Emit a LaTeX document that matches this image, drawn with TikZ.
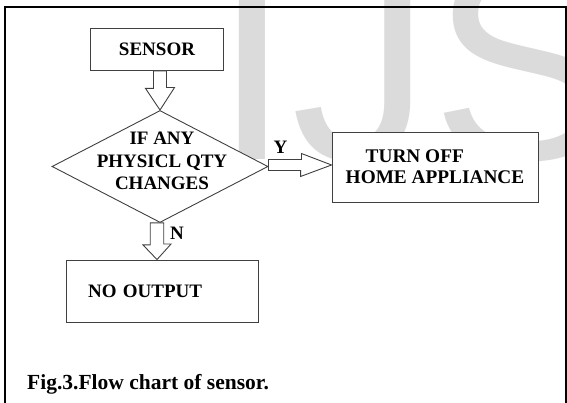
\documentclass[tikz,border=0pt]{standalone}
\usepackage{fontspec}
\setmainfont{Liberation Serif}
\setsansfont{Liberation Sans}
\usetikzlibrary{shapes,arrows,positioning,calc}

\begin{document}
\begin{tikzpicture}[
    x=1pt, y=1pt,
    every node/.style={
        inner sep=0pt,
        font=\fontsize{19}{21}\selectfont\bfseries
    },
    box/.style={
        rectangle, draw=black!75, fill=white,
        line width=0.9pt
    },
    decision/.style={
        diamond, draw=black!75, fill=white,
        line width=0.9pt
    },
    hollow/.style={
        draw=black!75, fill=white,
        line width=0.9pt, line join=miter
    }
]
\useasboundingbox (0,0) rectangle (567,403);
\clip (0,0) rectangle (567,403);

% watermark behind the chart
\node[anchor=base west, text=black!14,
      font=\fontsize{280}{280}\selectfont\sffamily] (wmark) at (213,243) {IJSER};

% outer frame
\draw[line width=2pt] (5,396) rectangle (566,-20);

\node[box, minimum width=133pt, minimum height=42pt] (sensor) at (157,353.5) {SENSOR};
\node[decision, minimum width=216pt, minimum height=112pt] (cond) at (160,236.5) {};
\node[align=center, font=\fontsize{19}{22.7}\selectfont\bfseries] (condtext) at (162,242)
    {IF ANY\\PHYSICL QTY\\CHANGES};
\node[box, minimum width=206pt, minimum height=70pt, align=left,
      font=\fontsize{19.3}{20.7}\selectfont\bfseries] (turnoff) at (435,236)
    {\hspace*{20pt}TURN OFF\\HOME APPLIANCE};
\node[box, minimum width=192pt, minimum height=62pt, text width=149pt,
      inner xsep=21.5pt, align=left] (noout) at (162.6,112) {NO OUTPUT};

% sensor -> decision
\draw[hollow] ($(cond.north |- sensor.south)+(-6.5,0)$) -- ++(0,-17.5) -- ++(-8,0)
    -- (cond.north) -- ++(14.5,22.5) -- ++(-8,0)
    -- ($(cond.north |- sensor.south)+(6.5,0)$) -- cycle;

% yes branch
\coordinate (yfrom) at ($(cond.east)+(0,1.5)$);
\coordinate (yto) at (yfrom -| turnoff.west);
\draw[hollow] ($(yfrom)+(0,5.5)$) -- ++(33,0) -- ++(0,6) -- (yto)
    -- ++(-31,-11.5) -- ++(0,6) -- ($(yfrom)+(0,-5.5)$) -- cycle;
\node[above right=12.5pt and 5pt of cond.east] (ylab) {Y};

% no branch
\coordinate (ntop) at ($(cond.south)+(-3,0)$);
\coordinate (ntip) at (ntop |- noout.north);
\draw[hollow] ($(ntop)+(-6.75,0)$) -- ++(0,-22) -- ++(-7.25,0) -- (ntip)
    -- ++(14,15.5) -- ++(-7.25,0) -- ($(ntop)+(6.75,0)$) -- cycle;
\node[below right=4pt and 10pt of cond.south] (nlab) {N};

\node[anchor=base west, font=\fontsize{21.5}{24}\selectfont\bfseries] (caption) at (27,13)
    {Fig.3.Flow chart of sensor.};
\end{tikzpicture}
\end{document}
